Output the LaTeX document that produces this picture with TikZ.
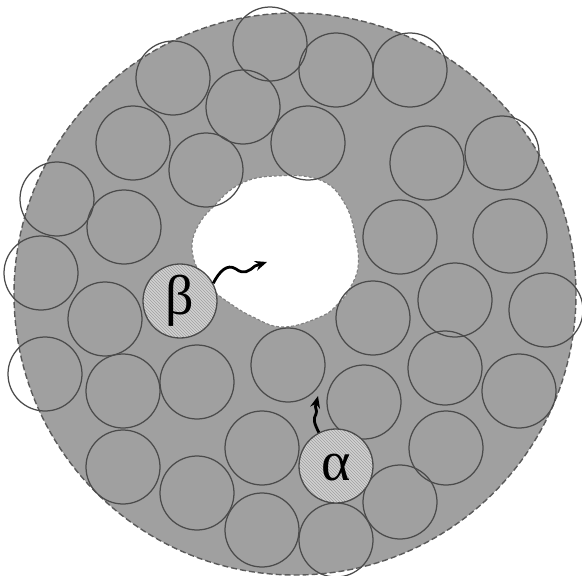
\documentclass[tikz,border=0pt]{standalone}
\usepackage{fontspec}
\newfontfamily\grk{Liberation Serif}
\usetikzlibrary{arrows.meta,patterns}
\definecolor{diskgray}{RGB}{160,160,160}
\definecolor{ringline}{RGB}{75,75,75}
\definecolor{edgegray}{RGB}{90,90,90}
\tikzset{
  grain/.style={draw=ringline, line width=1.25pt},
  particle/.style={circle, draw=ringline, line width=1.3pt, minimum size=74pt, inner sep=0pt,
    preaction={fill=gray!35}, pattern=north west lines, pattern color=gray!75},
  squiggle/.style={line width=2.8pt, black, -{Stealth[length=12pt,width=10pt]}},
}
\newcommand{\biggreek}[1]{{\grk\fontsize{56pt}{56pt}\selectfont #1}}
\begin{document}
\begin{tikzpicture}[x=1pt,y=-1pt]
\useasboundingbox (0,0) rectangle (582,576);
% big porous disk
\fill[diskgray] (295,294) circle[radius=281pt];
\draw[edgegray, line width=1.4pt, dash pattern=on 6pt off 3pt] (295,294) circle[radius=281pt];
% central hole
\fill[white] plot[smooth cycle, tension=0.7] coordinates {(213,207) (240,184) (275,176) (320,180) (345,204) (356,240) (358,267) (350,288) (338,304) (320,317) (283,327) (253,317) (228,302) (212,289) (198,270) (192,247) (198,226)};
\draw[gray, line width=1.1pt, dash pattern=on 3pt off 2pt] plot[smooth cycle, tension=0.7] coordinates {(213,207) (240,184) (275,176) (320,180) (345,204) (356,240) (358,267) (350,288) (338,304) (320,317) (283,327) (253,317) (228,302) (212,289) (198,270) (192,247) (198,226)};
% grains
\foreach \cx/\cy in {270/44,336/70,410/70,173/78,243/107,133/143,308/143,206/170,427/163,502/153,
  57/199,124/227,400/237,510/236,41/273,105/319,373/318,455/300,546/310,45/374,288/365,197/382,
  123/391,445/368,364/402,519/391,262/448,123/467,197/493,446/448,400/502,262/530,336/540}
  \draw[grain] (\cx,\cy) circle[radius=37pt];
% particles
\node[particle] (beta) at (180,301) {};
\node[particle] (alpha) at (336,466) {};
\node (betalabel) at (beta.center) {\biggreek{β}};
\node (alphalabel) at ([yshift=-2pt]alpha.center) {\biggreek{α}};
% trajectories
\coordinate (betatip) at (267,262);
\coordinate (alphatip) at (318,396);
\draw[squiggle] (beta.28) .. controls (219,272) and (227,263) .. (236,269)
  .. controls (244,275) and (249,271) .. (255,266) -- (betatip);
\draw[squiggle] (alpha.117) .. controls (314,423) and (313,419) .. (316,414)
  .. controls (318,410) and (314,408) .. (316,404) -- (alphatip);
\end{tikzpicture}
\end{document}
